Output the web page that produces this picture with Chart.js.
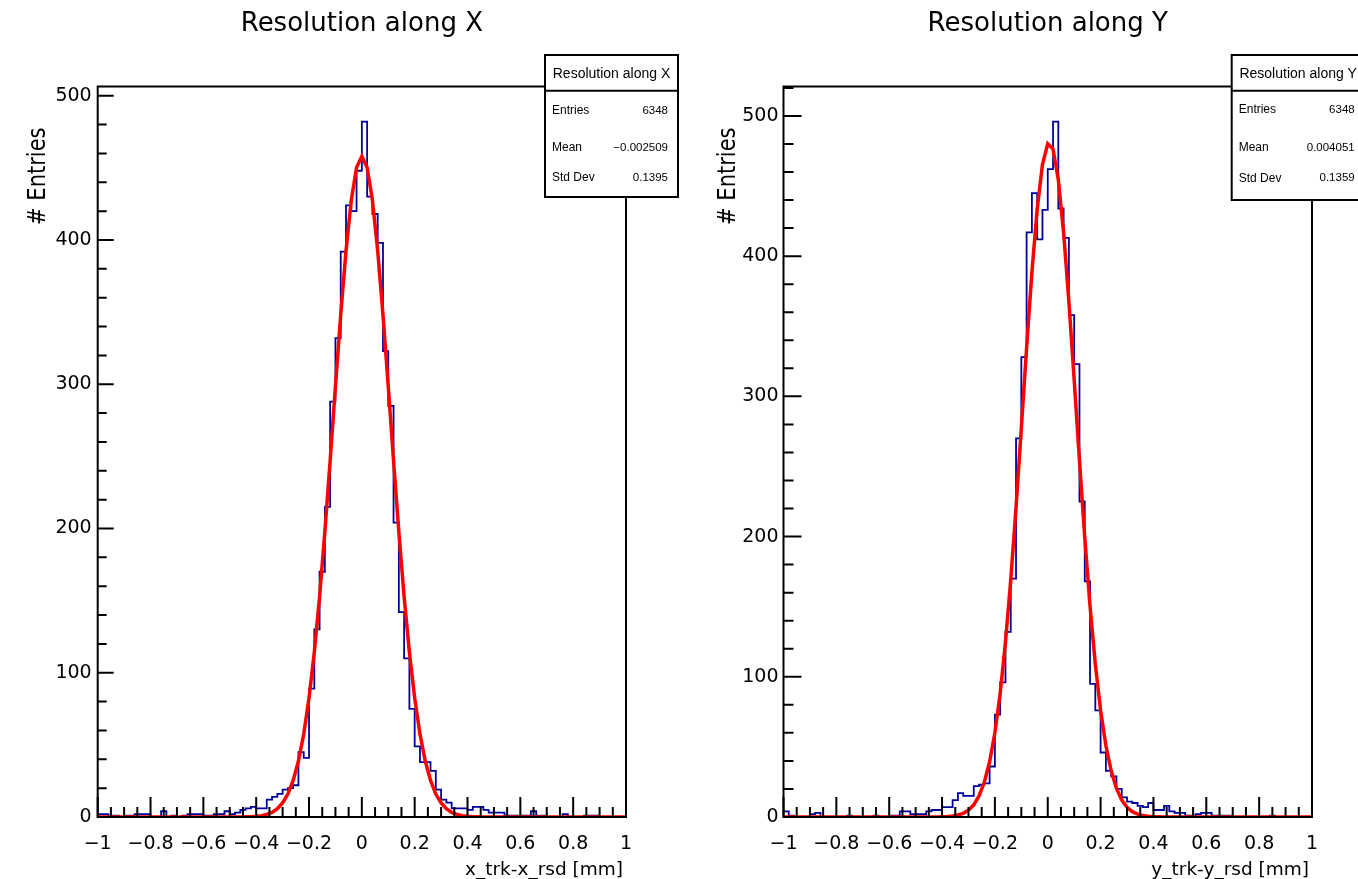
<!DOCTYPE html>
<html>
<head>
<meta charset="utf-8">
<script src="https://cdn.jsdelivr.net/npm/chart.js@4/dist/chart.umd.min.js"></script>
<style>
  html, body { margin: 0; padding: 0; background: #fff; }
  body { width: 1358px; height: 879px; position: relative; overflow: hidden; }
  canvas { position: absolute; top: 0; }
  #graficoX { left: 0; }
  #graficoY { left: 700px; }
</style>
</head>
<body>
<canvas id="graficoX" width="700" height="879"></canvas>
<canvas id="graficoY" width="658" height="879"></canvas>
<script>
// histogram binning: 100 bins of 0.02 from -1 to 1
const binMin = -1;
const binWidth = 0.02;

const xTickValues = [-1, -0.8, -0.6, -0.4, -0.2, 0, 0.2, 0.4, 0.6, 0.8, 1];
const xTickLabels = ["\u22121", "\u22120.8", "\u22120.6", "\u22120.4", "\u22120.2", "0", "0.2", "0.4", "0.6", "0.8", "1"];
const yTickValues = [0, 100, 200, 300, 400, 500];
const yTickLabels = ["0", "100", "200", "300", "400", "500"];

// bin contents, x_trk - x_rsd
const countsX = [
    2, 2, 1, 1, 0, 1, 1, 2, 2, 2,
    0, 0, 4, 0, 1, 0, 1, 2, 2, 2,
    1, 1, 2, 2, 4, 2, 3, 5, 6, 7,
    6, 6, 12, 14, 16, 19, 20, 22, 45, 41,
    89, 130, 170, 215, 288, 332, 392, 424, 420, 448,
    482, 430, 418, 398, 323, 285, 204, 142, 110, 75,
    49, 38, 38, 32, 19, 12, 10, 6, 6, 6,
    5, 7, 7, 5, 3, 3, 3, 1, 1, 1,
    1, 1, 4, 1, 1, 0, 0, 0, 2, 0,
    0, 0, 1, 1, 1, 0, 0, 0, 0, 0,
];

// bin contents, y_trk - y_rsd
const countsY = [
    4, 1, 0, 0, 0, 2, 3, 0, 0, 0,
    0, 0, 1, 0, 0, 0, 0, 1, 0, 0,
    1, 1, 4, 4, 2, 2, 2, 4, 5, 5,
    7, 7, 12, 17, 15, 15, 22, 23, 24, 36,
    73, 96, 132, 170, 270, 328, 417, 445, 412, 433,
    462, 496, 434, 413, 358, 323, 225, 168, 95, 76,
    46, 33, 29, 20, 14, 11, 10, 8, 7, 10,
    5, 5, 8, 4, 3, 3, 1, 1, 2, 3,
    3, 1, 1, 1, 1, 0, 0, 0, 0, 0,
    0, 0, 1, 0, 0, 0, 0, 0, 0, 0,
];

// gaussian fit curve, sampled every 0.02 from -1 to 1
const fitX = [
    0, 0, 0, 0, 0, 0, 0, 0, 0, 0,
    0, 0, 0, 0, 0, 0, 0, 0, 0, 0,
    0, 0, 0, 0, 0, 0, 0, 0, 0.1, 0.2,
    0.5, 0.9, 1.8, 3.2, 5.7, 9.7, 15.9, 25.3, 38.8, 57.5,
    82.5, 114.2, 152.8, 197.7, 247.0, 298.3, 348.1, 392.5, 427.6, 450.2,
    458.0, 450.2, 427.6, 392.5, 348.1, 298.3, 247.0, 197.7, 152.8, 114.2,
    82.5, 57.5, 38.8, 25.3, 15.9, 9.7, 5.7, 3.2, 1.8, 0.9,
    0.5, 0.2, 0.1, 0, 0, 0, 0, 0, 0, 0,
    0, 0, 0, 0, 0, 0, 0, 0, 0, 0,
    0, 0, 0, 0, 0, 0, 0, 0, 0, 0,
    0,
];

const fitY = [
    0, 0, 0, 0, 0, 0, 0, 0, 0, 0,
    0, 0, 0, 0, 0, 0, 0, 0, 0, 0,
    0, 0, 0, 0, 0, 0, 0, 0, 0, 0,
    0.2, 0.4, 0.7, 1.4, 2.6, 4.9, 8.7, 15.0, 24.8, 39.4,
    60.1, 88.2, 124.6, 169.2, 220.8, 277.3, 334.6, 388.4, 433.6, 465.3,
    480.2, 476.4, 454.5, 416.9, 367.6, 311.8, 254.4, 199.5, 150.4, 109.0,
    76.0, 51.0, 32.9, 20.4, 12.1, 6.9, 3.8, 2.0, 1.0, 0.5,
    0.2, 0.1, 0, 0, 0, 0, 0, 0, 0, 0,
    0, 0, 0, 0, 0, 0, 0, 0, 0, 0,
    0, 0, 0, 0, 0, 0, 0, 0, 0, 0,
    0,
];

const statsX = [["Entries", "6348"], ["Mean", "\u22120.002509"], ["Std Dev", "0.1395"]];
const statsY = [["Entries", "6348"], ["Mean", "0.004051"], ["Std Dev", "0.1359"]];

const FONT = "'DejaVu Sans', Verdana, sans-serif";
const BOXFONT = "'Liberation Sans', Arial, sans-serif";

// ROOT-like frame, inner ticks, stats box and axis titles
const rootStyle = {
    id: "rootStyle",
    afterDatasetsDraw(chart, args, opts) {
        const { ctx, chartArea: a } = chart;
        const x = chart.scales.x, y = chart.scales.y;
        ctx.save();
        ctx.strokeStyle = "#000";
        ctx.lineWidth = 2;
        ctx.beginPath();
        for (let i = 0; i <= 40; i++) {
            const px = x.getPixelForValue(binMin + i * 0.05);
            const len = i % 4 === 0 ? 20 : 10;
            ctx.moveTo(px, a.bottom);
            ctx.lineTo(px, a.bottom - len);
        }
        for (let v = 0; v <= y.max; v += 20) {
            const py = y.getPixelForValue(v);
            const len = v % 100 === 0 ? opts.yMajor : opts.yMinor;
            ctx.moveTo(a.left, py);
            ctx.lineTo(a.left + len, py);
        }
        ctx.stroke();
        ctx.strokeRect(a.left, a.top, a.right - a.left, a.bottom - a.top);
        ctx.restore();
    },
    afterDraw(chart, args, opts) {
        const { ctx, chartArea: a } = chart;
        const b = opts.box;
        ctx.save();
        // stats box
        ctx.fillStyle = "#fff";
        ctx.fillRect(b.x, b.y, b.w, b.h);
        ctx.strokeStyle = "#000";
        ctx.lineWidth = 2;
        ctx.strokeRect(b.x, b.y, b.w, b.h);
        ctx.beginPath();
        ctx.moveTo(b.x, b.sep);
        ctx.lineTo(b.x + b.w, b.sep);
        ctx.stroke();
        ctx.fillStyle = "#000";
        ctx.textBaseline = "middle";
        ctx.font = "14px " + BOXFONT;
        ctx.textAlign = "center";
        ctx.fillText(b.header, b.x + b.w / 2, b.headerY);
        b.rows.forEach((row, i) => {
            ctx.font = "12px " + BOXFONT;
            ctx.textAlign = "left";
            ctx.fillText(row[0], b.x + 7, b.rowY[i]);
            ctx.font = "11.5px " + BOXFONT;
            ctx.textAlign = "right";
            ctx.fillText(row[1], b.x + b.w - 10, b.rowY[i]);
        });
        // axis titles
        ctx.textBaseline = "alphabetic";
        ctx.font = "18.5px " + FONT;
        ctx.textAlign = "right";
        ctx.fillText(opts.xTitle, a.right - 3, 875);
        ctx.translate(opts.yTitleX, a.top + 41);
        ctx.scale(1.2, 1);
        ctx.rotate(-Math.PI / 2);
        ctx.font = "21px " + FONT;
        ctx.fillText("# Entries", 0, 0);
        ctx.restore();
    },
};

function buildChart(canvasId, counts, fit, cfg) {
    const histPoints = counts.map((c, i) => ({ x: binMin + i * binWidth, y: c }));
    histPoints.push({ x: binMin + counts.length * binWidth, y: counts[counts.length - 1] });
    const fitPoints = fit.map((v, i) => ({ x: binMin + i * binWidth, y: v }));

    return new Chart(document.getElementById(canvasId), {
        type: "line",
        data: {
            datasets: [
                {
                    label: "hist",
                    data: histPoints,
                    stepped: "before",
                    borderColor: "#00009c",
                    borderWidth: 1.8,
                    pointRadius: 0,
                    fill: false,
                    order: 2,
                },
                {
                    label: "fit",
                    data: fitPoints,
                    borderColor: "#ff0000",
                    borderWidth: 3.5,
                    pointRadius: 0,
                    fill: false,
                    tension: 0,
                    order: 1,
                },
            ],
        },
        options: {
            responsive: false,
            animation: false,
            layout: { padding: { left: 0, right: cfg.padRight, top: 0, bottom: 0 } },
            scales: {
                x: {
                    type: "linear",
                    min: -1,
                    max: 1,
                    grid: { display: false, drawTicks: false },
                    border: { display: false },
                    afterBuildTicks: (s) => { s.ticks = xTickValues.map((v) => ({ value: v })); },
                    ticks: {
                        padding: 16,
                        color: "#000",
                        maxRotation: 0,
                        autoSkip: false,
                        font: { family: FONT, size: 19 },
                        callback: (v, i) => xTickLabels[i],
                    },
                    afterFit: (s) => { s.height = 62; },
                },
                y: {
                    type: "linear",
                    min: 0,
                    max: cfg.yMax,
                    grid: { display: false, drawTicks: false },
                    border: { display: false },
                    afterBuildTicks: (s) => { s.ticks = yTickValues.map((v) => ({ value: v })); },
                    ticks: {
                        padding: cfg.yPad,
                        color: "#000",
                        autoSkip: false,
                        font: { family: FONT, size: 19 },
                        callback: (v, i) => yTickLabels[i],
                    },
                    afterFit: (s) => { s.width = cfg.yWidth; },
                },
            },
            plugins: {
                legend: { display: false },
                tooltip: { enabled: false },
                title: {
                    display: true,
                    text: cfg.title,
                    fullSize: false,
                    color: "#000",
                    font: { family: FONT, size: 26, weight: "normal" },
                    padding: { top: 9, bottom: 46.3 },
                },
                rootStyle: cfg.style,
            },
        },
        plugins: [rootStyle],
    });
}

const chartX = buildChart("graficoX", countsX, fitX, {
    title: "Resolution along X",
    yMax: 506.4,
    yWidth: 97.7,
    yPad: 6,
    padRight: 74,
    style: {
        yMajor: 16,
        yMinor: 9,
        xTitle: "x_trk-x_rsd [mm]",
        yTitleX: 45,
        box: {
            x: 545, y: 55, w: 133, h: 142, sep: 90.7,
            header: "Resolution along X", headerY: 74,
            rows: statsX, rowY: [111, 148, 178],
        },
    },
});

const chartY = buildChart("graficoY", countsY, fitY, {
    title: "Resolution along Y",
    yMax: 521,
    yWidth: 83.5,
    yPad: 5,
    padRight: 46,
    style: {
        yMajor: 18,
        yMinor: 10,
        xTitle: "y_trk-y_rsd [mm]",
        yTitleX: 35,
        box: {
            x: 531.7, y: 55, w: 133, h: 145, sep: 90.7,
            header: "Resolution along Y", headerY: 74,
            rows: statsY, rowY: [110, 147.7, 178.3],
        },
    },
});
</script>
</body>
</html>
